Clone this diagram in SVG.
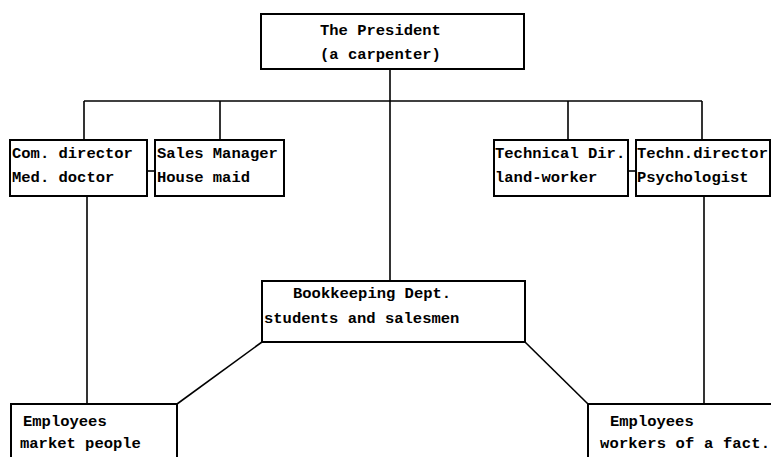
<svg xmlns="http://www.w3.org/2000/svg" width="771" height="457" viewBox="0 0 771 457">
<style>
.box{fill:#fff;stroke:#000;stroke-width:2}
.ln{fill:none;stroke:#000;stroke-width:1.6}
text{font-family:"Liberation Mono","DejaVu Sans Mono",monospace;font-size:15.5px;font-weight:bold;fill:#000}
</style>
<rect width="771" height="457" fill="#fff"/>
<g id="connectors">
<line class="ln" x1="390" y1="69" x2="390" y2="281"/>
<line class="ln" x1="84" y1="101" x2="702" y2="101"/>
<line class="ln" x1="84" y1="101" x2="84" y2="140"/>
<line class="ln" x1="220" y1="101" x2="220" y2="140"/>
<line class="ln" x1="568" y1="101" x2="568" y2="140"/>
<line class="ln" x1="702" y1="101" x2="702" y2="140"/>
<line class="ln" x1="147" y1="171" x2="155" y2="171"/>
<line class="ln" x1="628" y1="171" x2="636" y2="171"/>
<line class="ln" x1="87" y1="196" x2="87" y2="404"/>
<line class="ln" x1="704" y1="196" x2="704" y2="404"/>
<line class="ln" x1="262" y1="342" x2="177" y2="404"/>
<line class="ln" x1="525" y1="342" x2="588" y2="404"/>
</g>
<g id="president">
<rect class="box" x="261" y="14" width="263" height="55"/>
<text x="320" y="35">The President</text>
<text x="320" y="59">(a carpenter)</text>
</g>
<g id="com-director">
<rect class="box" x="10" y="140" width="137" height="56"/>
<text x="12" y="158">Com. director</text>
<text x="12" y="182">Med. doctor</text>
</g>
<g id="sales-manager">
<rect class="box" x="155" y="140" width="129" height="56"/>
<text x="157" y="158">Sales Manager</text>
<text x="157" y="182">House maid</text>
</g>
<g id="technical-dir">
<rect class="box" x="494" y="140" width="134" height="56"/>
<text x="495" y="158">Technical Dir.</text>
<text x="495" y="182">land-worker</text>
</g>
<g id="techn-director">
<rect class="box" x="636" y="140" width="134" height="56"/>
<text x="637" y="158" textLength="131">Techn.director</text>
<text x="637" y="182">Psychologist</text>
</g>
<g id="bookkeeping">
<rect class="box" x="262" y="281" width="263" height="61"/>
<text x="293" y="298">Bookkeeping Dept.</text>
<text x="264" y="323">students and salesmen</text>
</g>
<g id="employees-market">
<rect class="box" x="11" y="404" width="166" height="60"/>
<text x="23" y="426">Employees</text>
<text x="20" y="448">market people</text>
</g>
<g id="employees-factory">
<rect class="box" x="588" y="404" width="190" height="60"/>
<text x="610" y="426">Employees</text>
<text x="600" y="448" textLength="170">workers of a fact.</text>
</g>
</svg>
